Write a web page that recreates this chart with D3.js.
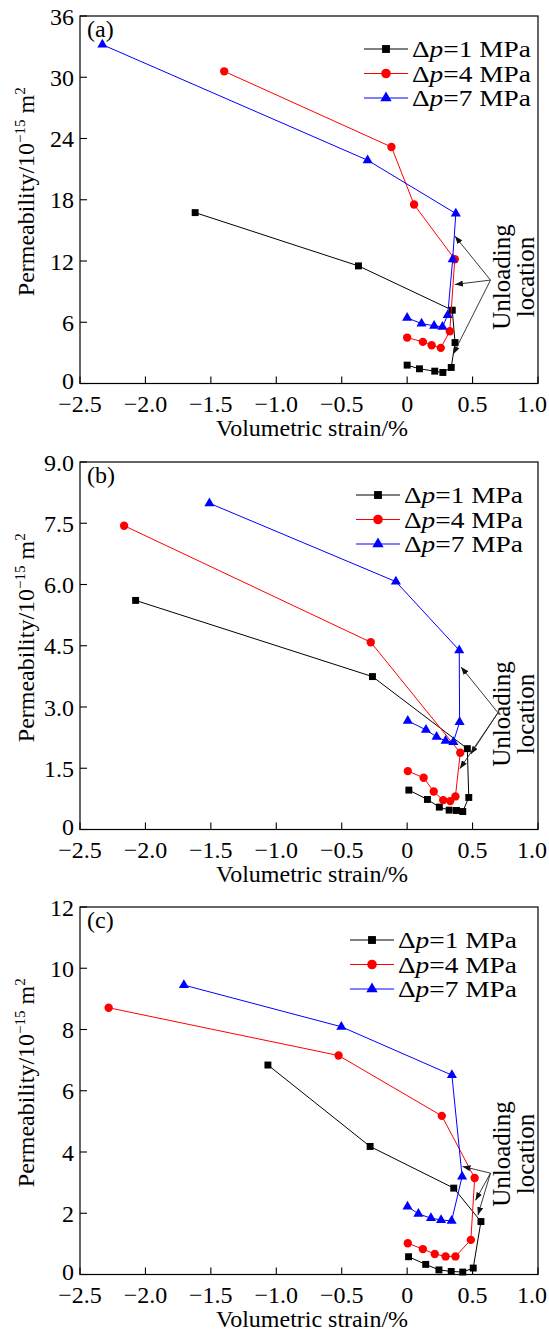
<!DOCTYPE html>
<html lang="en">
<head>
<meta charset="UTF-8">
<title>Permeability vs volumetric strain</title>
<script src="https://d3js.org/d3.v7.min.js"></script>
<style>
    body { margin: 0; background: #fff; }
    svg text { font-family: "Times New Roman", "Liberation Serif", serif; fill: #000; }
    .frame { fill: none; stroke: #000; stroke-width: 1.2; }
    .tick-line { stroke: #000; stroke-width: 1.1; }
    .series-line { fill: none; stroke-width: 1; }
    .arrow { stroke: #222; stroke-width: 0.9; fill: none; }
</style>
</head>
<body>
<div id="chart"></div>
<script>
// ---- data ----
const xTicks = [-2.5, -2.0, -1.5, -1.0, -0.5, 0, 0.5, 1.0];
const seriesLabels = ["1", "4", "7"];   // Δp in MPa

// panel (a)
const aStrain1 = [0, 0.094, 0.211, 0.273, 0.337, 0.366, 0.345, -0.372, -1.620];
const aPerm1   = [1.80, 1.44, 1.21, 1.08, 1.57, 4.01, 7.18, 11.52, 16.74];
const aStrain4 = [0, 0.120, 0.187, 0.257, 0.326, 0.364, 0.053, -0.120, -1.398];
const aPerm4   = [4.50, 4.08, 3.75, 3.49, 5.12, 12.17, 17.53, 23.17, 30.58];
const aStrain7 = [0, 0.110, 0.206, 0.270, 0.310, 0.348, 0.372, -0.302, -2.329];
const aPerm7   = [6.43, 5.87, 5.65, 5.55, 6.69, 12.17, 16.65, 21.87, 33.19];
const aYTicks  = [0, 6, 12, 18, 24, 30, 36];

// panel (b)
const bStrain1 = [0.013, 0.155, 0.246, 0.321, 0.377, 0.425, 0.471, 0.460, -0.265, -2.075];
const bPerm1   = [0.965, 0.736, 0.548, 0.474, 0.466, 0.44, 0.785, 1.98, 3.745, 5.61];
const bStrain4 = [0.005, 0.126, 0.203, 0.275, 0.329, 0.369, 0.406, -0.278, -2.163];
const bPerm4   = [1.43, 1.267, 0.932, 0.72, 0.695, 0.81, 1.88, 4.587, 7.44];
const bStrain7 = [0.005, 0.144, 0.225, 0.294, 0.353, 0.401, 0.398, -0.086, -1.511];
const bPerm7   = [2.66, 2.44, 2.27, 2.17, 2.14, 2.63, 4.39, 6.07, 7.99];
const bYTicks  = [0, 1.5, 3.0, 4.5, 6.0, 7.5, 9.0];

// panel (c)
const cStrain1 = [0.011, 0.142, 0.243, 0.337, 0.425, 0.505, 0.564, 0.356, -0.283, -1.064];
const cPerm1   = [0.58, 0.33, 0.15, 0.10, 0.08, 0.21, 1.73, 2.82, 4.18, 6.84];
const cStrain4 = [0.005, 0.120, 0.211, 0.294, 0.369, 0.487, 0.516, 0.265, -0.524, -2.281];
const cPerm4   = [1.02, 0.83, 0.67, 0.59, 0.59, 1.13, 3.15, 5.18, 7.15, 8.71];
const cStrain7 = [0.003, 0.086, 0.182, 0.259, 0.340, 0.420, 0.342, -0.503, -1.706];
const cPerm7   = [2.22, 1.98, 1.84, 1.78, 1.75, 3.20, 6.51, 8.09, 9.45];
const cYTicks  = [0, 2, 4, 6, 8, 10, 12];

// "Unloading location" arrows: start point and tips, in data units
const aArrowFrom = [0.637, 10.13];
const aArrowTips = [[0.365, 14.44], [0.365, 9.7], [0.352, 2.87]];
const bArrowFrom = [0.694, 2.86];
const bArrowTips = [[0.412, 3.98], [0.486, 1.846], [0.403, 1.49]];
const cArrowFrom = [0.637, 3.31];
const cArrowTips = [[0.423, 3.53], [0.522, 2.42], [0.541, 1.94]];

// ---- layout ----
const W = 549, H = 1333;
const plotLeft = 80, plotRight = 538, plotH = 367.5;
const colors = ["#000000", "#ff0000", "#0000ff"];
const shapes = [d3.symbolSquare, d3.symbolCircle, d3.symbolTriangle];
const markSize = [48, 55, 44];
const legendSize = [62, 72, 56];

const panels = [
    { tag: "(a)", top: 16, yTicks: aYTicks, yFmt: d3.format("d"),
      xs: [aStrain1, aStrain4, aStrain7], ys: [aPerm1, aPerm4, aPerm7],
      arrowFrom: aArrowFrom, arrowTips: aArrowTips, legendX: 364, textY: 277 },
    { tag: "(b)", top: 462, yTicks: bYTicks, yFmt: v => v === 0 ? "0" : d3.format(".1f")(v),
      xs: [bStrain1, bStrain4, bStrain7], ys: [bPerm1, bPerm4, bPerm7],
      arrowFrom: bArrowFrom, arrowTips: bArrowTips, legendX: 356, textY: 714 },
    { tag: "(c)", top: 907, yTicks: cYTicks, yFmt: d3.format("d"),
      xs: [cStrain1, cStrain4, cStrain7], ys: [cPerm1, cPerm4, cPerm7],
      arrowFrom: cArrowFrom, arrowTips: cArrowTips, legendX: 350, textY: 1154 }
];

const svg = d3.select("#chart").append("svg")
    .attr("width", W).attr("height", H)
    .style("display", "block");

svg.append("rect").attr("width", W).attr("height", H).attr("fill", "#fff");

svg.append("defs").append("marker")
    .attr("id", "head")
    .attr("markerUnits", "userSpaceOnUse")
    .attr("viewBox", "0 0 8 6")
    .attr("refX", 8).attr("refY", 3)
    .attr("markerWidth", 8).attr("markerHeight", 6)
    .attr("orient", "auto")
    .append("path").attr("d", "M0,0 L8,3 L0,6 Z").attr("fill", "#111");

const fmtX = v => v === 0 ? "0" : d3.format(".1f")(v).replace("-", "\u2212");

panels.forEach(p => {
    const x = d3.scaleLinear().domain([-2.5, 1.0]).range([plotLeft, plotRight]);
    const y = d3.scaleLinear().domain([0, d3.max(p.yTicks)]).range([p.top + plotH, p.top]);
    const g = svg.append("g");
    const bottom = p.top + plotH;

    // frame
    g.append("rect").attr("class", "frame")
        .attr("x", plotLeft).attr("y", p.top)
        .attr("width", plotRight - plotLeft).attr("height", plotH);

    // x axis: inward ticks
    const xAxis = g.append("g");
    xAxis.selectAll("line").data(xTicks).join("line")
        .attr("class", "tick-line")
        .attr("x1", d => x(d)).attr("x2", d => x(d))
        .attr("y1", bottom).attr("y2", bottom - 7);
    xAxis.selectAll("text").data(xTicks).join("text")
        .attr("x", d => Math.min(x(d), W - 17)).attr("y", bottom + 28)
        .attr("text-anchor", "middle")
        .attr("font-size", 24)
        .text(fmtX);

    // y axis: inward ticks
    const yAxis = g.append("g");
    yAxis.selectAll("line").data(p.yTicks).join("line")
        .attr("class", "tick-line")
        .attr("x1", plotLeft).attr("x2", plotLeft + 7)
        .attr("y1", d => y(d)).attr("y2", d => y(d));
    yAxis.selectAll("text").data(p.yTicks).join("text")
        .attr("x", plotLeft - 6).attr("y", d => y(d) + (d === 0 ? 5 : 8.5))
        .attr("text-anchor", "end")
        .attr("font-size", 24)
        .text(p.yFmt);

    // axis titles
    g.append("text")
        .attr("x", (plotLeft + plotRight) / 2 + 3).attr("y", bottom + 52)
        .attr("text-anchor", "middle").attr("font-size", 24)
        .text("Volumetric strain/%");

    const yt = g.append("text")
        .attr("transform", `translate(34,${p.top + plotH / 2 - 8}) rotate(-90)`)
        .attr("text-anchor", "middle").attr("font-size", 24);
    yt.append("tspan").text("Permeability/10");
    yt.append("tspan").attr("dy", -9).attr("font-size", 15).text("\u221215");
    yt.append("tspan").attr("dy", 9).text(" m");
    yt.append("tspan").attr("dy", -9).attr("font-size", 15).text("2");

    // panel tag
    g.append("text").attr("x", 87).attr("y", p.top + 21)
        .attr("font-size", 24).text(p.tag);

    // series
    const line = d3.line().x(d => x(d[0])).y(d => y(d[1]));
    p.xs.forEach((xs, i) => {
        const pts = xs.map((v, k) => [v, p.ys[i][k]]);
        g.append("path").attr("class", "series-line")
            .attr("stroke", colors[i]).attr("d", line(pts));
        g.selectAll(null).data(pts).join("path")
            .attr("transform", d => `translate(${x(d[0])},${y(d[1])})`)
            .attr("d", d3.symbol().type(shapes[i]).size(markSize[i]))
            .attr("fill", colors[i]);
    });

    // legend
    seriesLabels.forEach((lab, i) => {
        const ly = p.top + 33 + i * 24.5;
        const lx = p.legendX;
        g.append("line").attr("x1", lx).attr("x2", lx + 44)
            .attr("y1", ly).attr("y2", ly)
            .attr("stroke", colors[i]).attr("stroke-width", 1);
        g.append("path")
            .attr("transform", `translate(${lx + 22},${ly})`)
            .attr("d", d3.symbol().type(shapes[i]).size(legendSize[i]))
            .attr("fill", colors[i]);
        // legend lettering in the source is a little wider than the tick font
        const t = g.append("text")
            .attr("transform", `translate(${lx + 48},${ly + 8}) scale(1.14,1)`)
            .attr("font-size", 24);
        t.append("tspan").text("\u0394");
        t.append("tspan").attr("font-style", "italic").text("p");
        t.append("tspan").text(`=${lab} MPa`);
    });

    // unloading arrows and label
    p.arrowTips.forEach(tip => {
        g.append("line").attr("class", "arrow")
            .attr("x1", x(p.arrowFrom[0])).attr("y1", y(p.arrowFrom[1]))
            .attr("x2", x(tip[0])).attr("y2", y(tip[1]))
            .attr("marker-end", "url(#head)");
    });
    g.append("text")
        .attr("transform", `translate(510,${p.textY}) rotate(-90)`)
        .attr("text-anchor", "middle").attr("font-size", 25)
        .text("Unloading");
    g.append("text")
        .attr("transform", `translate(534,${p.textY}) rotate(-90)`)
        .attr("text-anchor", "middle").attr("font-size", 25)
        .text("location");
});
</script>
</body>
</html>
